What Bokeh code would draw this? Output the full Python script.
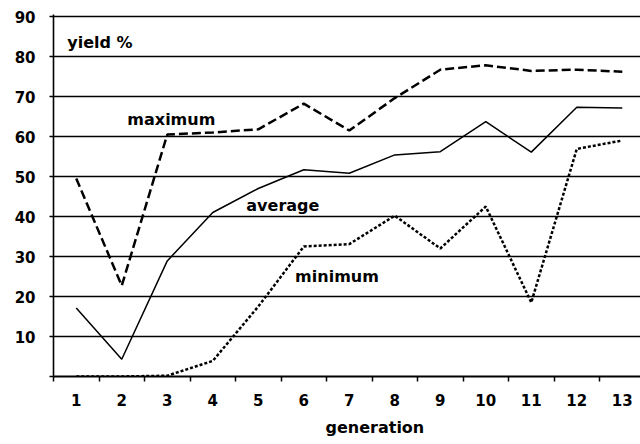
from bokeh.plotting import figure
from bokeh.models import Range1d, FixedTicker, Label, Title
from bokeh.embed import file_html
from bokeh.resources import INLINE

generation = [1, 2, 3, 4, 5, 6, 7, 8, 9, 10, 11, 12, 13]
maximum = [49.5, 22.7, 60.5, 61.0, 61.8, 68.2, 61.5, 69.6, 76.7, 77.8, 76.4, 76.7, 76.2]
average = [17.1, 4.3, 28.9, 41.0, 47.0, 51.7, 50.8, 55.4, 56.2, 63.7, 56.1, 67.3, 67.1]
minimum = [0.0, 0.0, 0.2, 3.9, 17.5, 32.5, 33.1, 40.2, 32.0, 42.5, 18.5, 56.9, 59.0]
y_ticks = [0, 10, 20, 30, 40, 50, 60, 70, 80, 90]

FONT = "DejaVu Sans"

p = figure(width=640, height=444, output_backend="svg", toolbar_location=None,
           x_range=Range1d(0.5, 13.4), y_range=Range1d(0, 90.5),
           min_border_left=53, min_border_right=0, min_border_top=14, min_border_bottom=68)
p.outline_line_color = None
p.background_fill_color = "white"
p.border_fill_color = "white"
p.xgrid.visible = False

p.ygrid.ticker = FixedTicker(ticks=y_ticks[1:])
p.ygrid.grid_line_color = "black"
p.ygrid.grid_line_width = 1.6
p.ygrid.grid_line_alpha = 1.0

p.yaxis.ticker = FixedTicker(ticks=y_ticks)
p.yaxis.major_label_overrides = {0: ""}
p.yaxis.axis_line_color = "black"
p.yaxis.axis_line_width = 1.6
p.yaxis.major_tick_out = 4
p.yaxis.major_tick_in = 0
p.yaxis.minor_tick_line_color = None
p.yaxis.major_tick_line_width = 1.5
p.yaxis.major_label_standoff = 14
p.yaxis.major_label_text_font = FONT
p.yaxis.major_label_text_font_style = "bold"
p.yaxis.major_label_text_font_size = "15px"
p.yaxis.major_label_text_color = "black"

p.xaxis.ticker = FixedTicker(ticks=generation, minor_ticks=[g - 0.5 for g in generation])
p.xaxis.axis_line_color = "black"
p.xaxis.axis_line_width = 2
p.xaxis.major_tick_out = 0
p.xaxis.major_tick_in = 0
p.xaxis.minor_tick_out = 5
p.xaxis.minor_tick_in = 0
p.xaxis.minor_tick_line_color = "black"
p.xaxis.minor_tick_line_width = 1.5
p.xaxis.major_label_standoff = 12
p.xaxis.major_label_text_font = FONT
p.xaxis.major_label_text_font_style = "bold"
p.xaxis.major_label_text_font_size = "15px"
p.xaxis.major_label_text_color = "black"

p.line(generation, average, line_color="black", line_width=1.5)
p.line(generation, maximum, line_color="black", line_width=2.5, line_dash="9 4")
p.line(generation, minimum, line_color="black", line_width=2.5, line_dash="3 2")

def add_label(txt, x, y, size="16px"):
    p.add_layout(Label(x=x, y=y, text=txt, text_font=FONT, text_font_style="bold",
                       text_font_size=size, text_align="center", text_baseline="middle",
                       text_color="black"))

add_label("yield %", 1.52, 83.5)
add_label("maximum", 3.09, 64.3)
add_label("average", 5.54, 42.8)
add_label("minimum", 6.73, 25.0)

p.add_layout(Title(text="generation", align="left", offset=272, standoff=14,
                   text_font=FONT, text_font_style="bold", text_font_size="16px",
                   text_color="black"), "below")

open("out.html", "w").write(file_html(p, INLINE))
